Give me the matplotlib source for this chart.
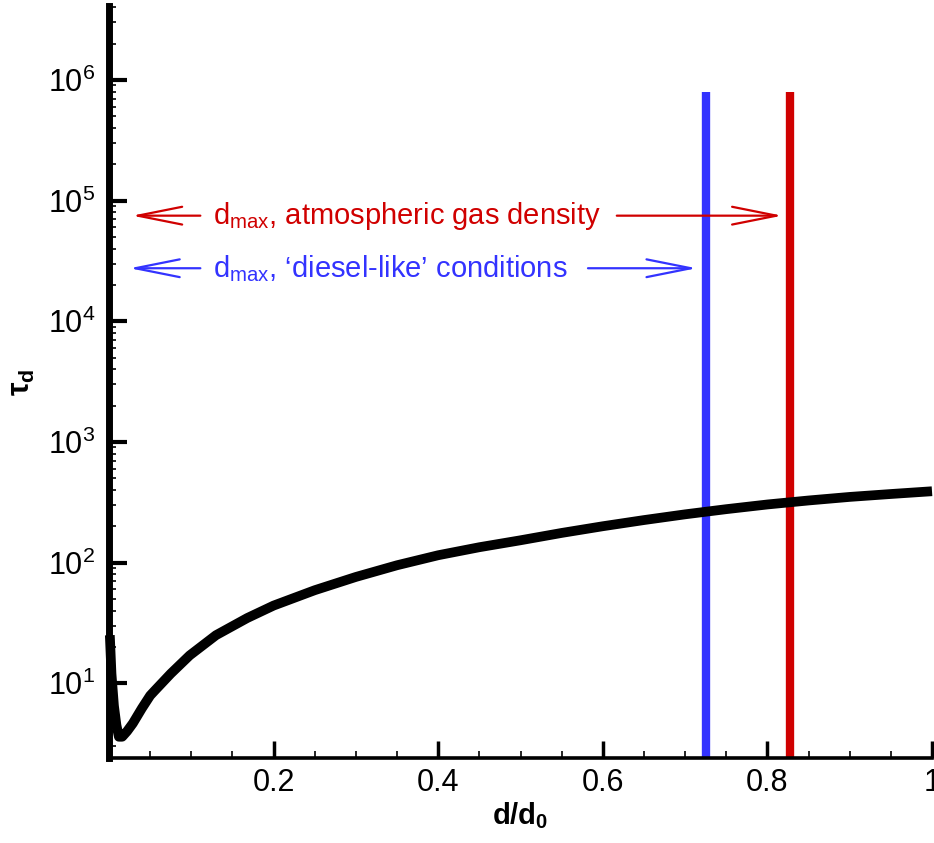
import matplotlib
matplotlib.use("Agg")
import matplotlib.pyplot as plt
from matplotlib.ticker import FixedLocator, NullFormatter, LogLocator
import numpy as np

plt.rcParams['font.family'] = ['Liberation Sans', 'DejaVu Sans']
plt.rcParams['mathtext.fontset'] = 'custom'
plt.rcParams['mathtext.rm'] = 'Liberation Sans'
plt.rcParams['mathtext.it'] = 'Liberation Sans:italic'
plt.rcParams['mathtext.bf'] = 'Liberation Sans:bold'

# ---- data ----
d_ratio = [0.001, 0.003, 0.006, 0.009, 0.012, 0.016, 0.022, 0.029, 0.04, 0.05, 0.055,
           0.075, 0.098, 0.13, 0.168, 0.2, 0.25, 0.3, 0.35, 0.4, 0.45, 0.5, 0.55,
           0.6, 0.65, 0.7, 0.75, 0.8, 0.85, 0.9, 0.95, 1.0]
tau_d = [25, 12, 6.5, 4.5, 3.6, 3.6, 4.0, 4.65, 6.2, 7.9, 8.6,
         12.0, 17.0, 25.0, 34.7, 44, 59, 76, 95, 115, 134, 153, 176,
         200, 225, 251, 277, 303, 327, 350, 370, 390]

dmax_diesel = 0.726
dmax_atm = 0.828
line_top = 8e5

y_ticks = [1e1, 1e2, 1e3, 1e4, 1e5, 1e6]
y_ticklabels = [r'$10^{1}$', r'$10^{2}$', r'$10^{3}$', r'$10^{4}$', r'$10^{5}$', r'$10^{6}$']
x_ticks = [0.2, 0.4, 0.6, 0.8, 1.0]
x_ticklabels = ['0.2', '0.4', '0.6', '0.8', '1']

label_atm = r'd$_{\mathregular{max}}$, atmospheric gas density'
label_diesel = r'd$_{\mathregular{max}}$, ' + '\u2018diesel-like\u2019 conditions'

red = '#d00000'
blue = '#3333ff'

fig = plt.figure(figsize=(9.34, 8.43), dpi=100)
ax = fig.add_axes([109/934, 85/843, (932-109)/934, (758-6)/843])
ax.set_yscale('log')
ax.set_xlim(0, 1)
ax.set_ylim(2.4, 4.1e6)

ax.plot(d_ratio, tau_d, color='black', lw=7, solid_capstyle='butt', clip_on=False, zorder=3)

ax.plot([dmax_diesel, dmax_diesel], [2.4, line_top], color=blue, lw=6, solid_capstyle='butt', zorder=2)
ax.plot([dmax_atm, dmax_atm], [2.4, line_top], color=red, lw=6, solid_capstyle='butt', zorder=2)

y_atm = 7.5e4
y_dsl = 2.75e4
ap = dict(arrowstyle='->, head_length=1.6, head_width=0.32', lw=1.6, shrinkA=0, shrinkB=0,
          mutation_scale=20)
ax.annotate('', xy=(0.028, y_atm), xytext=(0.111, y_atm), arrowprops=dict(ap, color=red))
ax.annotate('', xy=(0.818, y_atm), xytext=(0.617, y_atm), arrowprops=dict(ap, color=red))
ax.annotate('', xy=(0.025, y_dsl), xytext=(0.111, y_dsl), arrowprops=dict(ap, color=blue))
ax.annotate('', xy=(0.714, y_dsl), xytext=(0.582, y_dsl), arrowprops=dict(ap, color=blue))

ax.text(0.126, y_atm, label_atm, color=red, fontsize=21, va='center', ha='left')
ax.text(0.126, y_dsl, label_diesel, color=blue, fontsize=21, va='center', ha='left')

for s in ['top', 'right']:
    ax.spines[s].set_visible(False)
ax.spines['left'].set_linewidth(5)
ax.spines['bottom'].set_linewidth(2.6)

ax.yaxis.set_major_locator(FixedLocator(y_ticks))
ax.set_yticklabels(y_ticklabels)
ax.yaxis.set_minor_locator(LogLocator(base=10, subs=np.arange(2, 10), numticks=20))
ax.yaxis.set_minor_formatter(NullFormatter())
ax.xaxis.set_major_locator(FixedLocator(x_ticks))
ax.set_xticklabels(x_ticklabels)
ax.xaxis.set_minor_locator(FixedLocator(np.arange(0.05, 1.0, 0.05)))

ax.tick_params(axis='both', which='major', direction='in', length=12, width=2.5, labelsize=22, pad=7)
ax.tick_params(axis='both', which='minor', direction='in', length=5, width=1.2)
ax.tick_params(axis='y', which='major', length=13, width=3, pad=10)

ax.set_xlabel(r'$\mathbf{d/d_0}$', fontsize=21, labelpad=2)
ax.set_ylabel(r'$\mathbf{\tau_d}$', fontsize=22, labelpad=8)

fig.savefig('out.png', dpi=100)
